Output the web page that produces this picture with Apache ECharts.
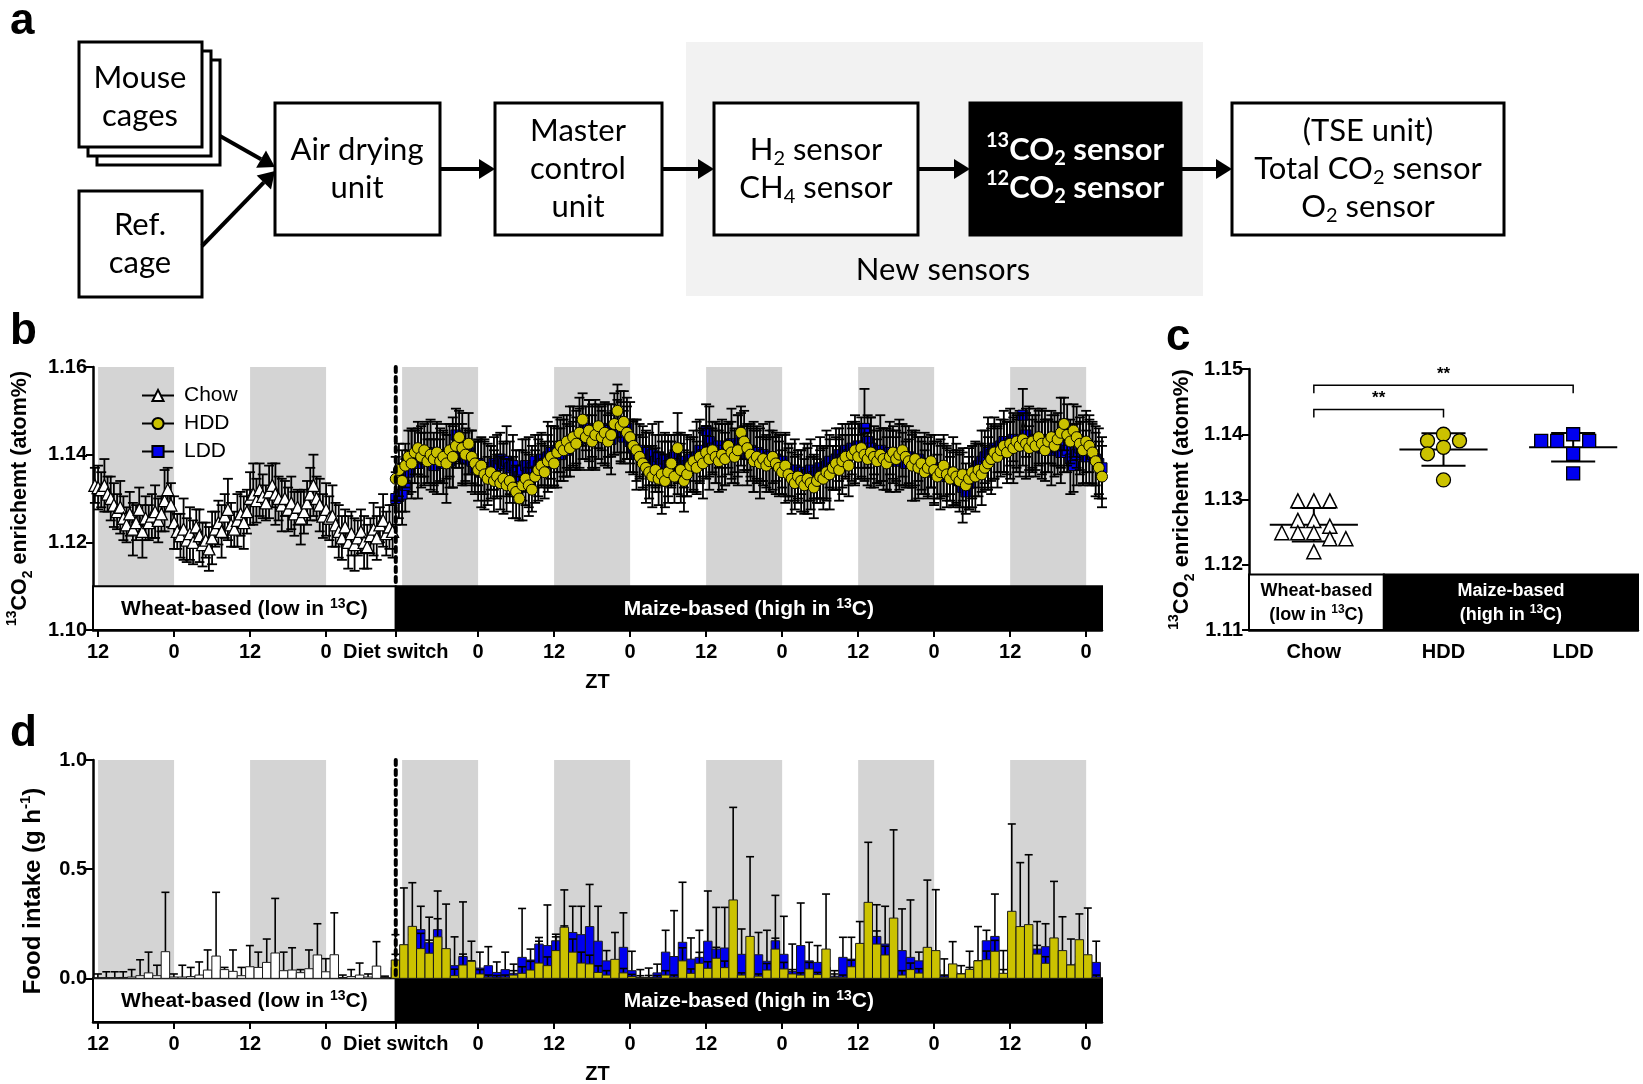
<!DOCTYPE html>
<html>
<head>
<meta charset="utf-8">
<script src="https://cdn.jsdelivr.net/npm/echarts@6.0.0/dist/echarts.min.js"></script>
<style>
html, body { margin: 0; padding: 0; background: #fff; }
#main { width: 1643px; height: 1084px; }
</style>
</head>
<body>
<div id="main"></div>
<script>
// ---- shared time axis (hours after the first ZT12 tick) ----
var tMin = -0.8, tMax = 158.5;
var dietSwitch = 47;
var tickHours = [0, 12, 24, 36, 47, 60, 72, 84, 96, 108, 120, 132, 144, 156];
var darkStart = [0, 24, 48, 72, 96, 120, 144];   // dark phase ZT12-24, 12 h long

// ---- panel b: 13CO2 enrichment, every 0.5 h ----
var chowStart = -0.5, hddStart = 47, stepB = 0.5;
var chowB = [
  1.1330,1.1325,1.1320,1.1330,1.1310,1.1300,1.1285,1.1270,1.1280,1.1255,1.1240,1.1265,1.1230,1.1245,1.1275,1.1225,1.1255,1.1245,1.1260,1.1270,1.1250,1.1265,1.1295,1.1320,
  1.1285,1.1245,1.1225,1.1215,1.1230,1.1205,1.1220,1.1200,1.1235,1.1215,1.1195,1.1205,1.1185,1.1210,1.1230,1.1245,1.1225,1.1260,1.1275,1.1240,1.1230,1.1250,1.1265,1.1245,
  1.1270,1.1300,1.1310,1.1295,1.1320,1.1305,1.1290,1.1315,1.1330,1.1310,1.1300,1.1285,1.1300,1.1275,1.1290,1.1265,1.1280,1.1255,1.1270,1.1290,1.1310,1.1330,1.1300,1.1285,
  1.1260,1.1275,1.1255,1.1260,1.1240,1.1225,1.1210,1.1235,1.1200,1.1220,1.1195,1.1210,1.1225,1.1200,1.1190,1.1215,1.1230,1.1210,1.1240,1.1250,1.1220,1.1235,1.1225
];
var chowBSd = [ // x 0.001
  4,5,4,6,4,5,5,4,6,5,4,5,6,4,5,6,5,4,5,6,5,4,7,5,
  5,6,4,5,7,5,6,5,4,6,5,4,5,6,4,5,6,5,7,5,4,6,5,6,
  5,6,7,5,6,5,4,6,5,7,5,6,4,5,6,5,4,6,5,5,6,7,5,6,
  5,6,5,7,5,6,5,4,6,5,6,4,5,6,5,4,6,5,4,6,5,5,6
];
var hddB = [
  1.1345,1.1365,1.1340,1.1375,1.1395,1.1380,1.1405,1.1415,1.1395,1.1410,1.1385,1.1400,1.1390,1.1405,1.1385,1.1395,1.1380,1.1410,1.1395,1.1420,1.1440,1.1415,1.1400,1.1425,
  1.1395,1.1380,1.1365,1.1375,1.1355,1.1345,1.1360,1.1340,1.1350,1.1335,1.1345,1.1330,1.1340,1.1325,1.1315,1.1300,1.1330,1.1345,1.1330,1.1320,1.1350,1.1365,1.1375,1.1360,
  1.1385,1.1395,1.1380,1.1405,1.1420,1.1410,1.1430,1.1415,1.1440,1.1425,1.1450,1.1480,1.1440,1.1455,1.1430,1.1445,1.1465,1.1440,1.1450,1.1430,1.1445,1.1470,1.1500,1.1465,
  1.1475,1.1450,1.1440,1.1420,1.1410,1.1395,1.1380,1.1370,1.1360,1.1350,1.1365,1.1345,1.1355,1.1340,1.1360,1.1380,1.1350,1.1415,1.1365,1.1340,1.1355,1.1375,1.1385,1.1370,
  1.1395,1.1380,1.1405,1.1390,1.1410,1.1395,1.1385,1.1400,1.1390,1.1420,1.1405,1.1395,1.1410,1.1450,1.1430,1.1415,1.1400,1.1385,1.1395,1.1380,1.1390,1.1375,1.1385,1.1395,
  1.1380,1.1370,1.1360,1.1375,1.1355,1.1345,1.1335,1.1350,1.1340,1.1330,1.1345,1.1335,1.1325,1.1340,1.1350,1.1345,1.1360,1.1355,1.1370,1.1380,1.1365,1.1385,1.1395,1.1375,
  1.1400,1.1410,1.1395,1.1415,1.1400,1.1390,1.1405,1.1395,1.1385,1.1400,1.1390,1.1380,1.1395,1.1405,1.1390,1.1400,1.1410,1.1395,1.1385,1.1375,1.1390,1.1370,1.1380,1.1360,
  1.1370,1.1385,1.1365,1.1350,1.1360,1.1375,1.1355,1.1345,1.1360,1.1350,1.1340,1.1355,1.1330,1.1345,1.1360,1.1350,1.1365,1.1355,1.1370,1.1380,1.1390,1.1405,1.1395,1.1410,
  1.1420,1.1405,1.1425,1.1415,1.1430,1.1420,1.1435,1.1425,1.1415,1.1430,1.1420,1.1440,1.1425,1.1410,1.1430,1.1440,1.1420,1.1435,1.1450,1.1470,1.1445,1.1430,1.1455,1.1440,
  1.1425,1.1410,1.1430,1.1420,1.1405,1.1385,1.1370,1.1350
];
var hddBSd = [
  5,6,7,5,6,8,5,6,7,6,5,8,6,7,5,6,9,6,7,5,6,8,6,7,
  6,5,7,6,8,5,6,7,5,6,8,6,5,7,6,5,8,6,7,5,6,7,5,6,
  6,7,5,8,6,7,6,5,7,6,8,6,5,7,6,8,5,6,7,6,5,7,6,8,
  7,6,8,6,7,5,6,8,6,7,5,6,9,6,7,5,6,8,6,7,5,6,7,6,
  6,8,6,7,5,6,7,8,6,5,7,6,8,6,7,5,6,7,6,8,5,6,7,6,
  7,6,5,7,6,8,6,5,7,6,8,6,7,5,6,7,6,8,5,6,7,6,5,7,
  6,8,5,7,6,6,8,7,5,6,7,6,8,6,5,7,6,7,5,8,6,7,6,5,
  7,6,8,5,6,7,6,5,8,6,7,6,5,7,6,8,6,7,5,6,8,6,7,6,
  6,7,5,8,6,7,6,8,5,6,7,6,8,7,5,6,7,6,8,6,7,5,6,7,
  6,8,7,6,7,8,6,7
];
var lddB = [
  1.1300,1.1305,1.1310,1.1330,1.1360,1.1385,1.1395,1.1380,1.1400,1.1390,1.1405,1.1385,1.1375,1.1390,1.1400,1.1380,1.1395,1.1385,1.1405,1.1445,1.1420,1.1400,1.1390,1.1405,
  1.1385,1.1370,1.1380,1.1360,1.1370,1.1355,1.1370,1.1380,1.1375,1.1390,1.1380,1.1385,1.1370,1.1375,1.1360,1.1350,1.1365,1.1375,1.1360,1.1370,1.1385,1.1375,1.1390,1.1380,
  1.1395,1.1405,1.1395,1.1410,1.1400,1.1420,1.1410,1.1430,1.1425,1.1440,1.1435,1.1450,1.1460,1.1445,1.1455,1.1440,1.1450,1.1460,1.1445,1.1455,1.1435,1.1450,1.1465,1.1450,
  1.1440,1.1460,1.1430,1.1415,1.1400,1.1410,1.1395,1.1405,1.1390,1.1400,1.1385,1.1395,1.1380,1.1390,1.1375,1.1385,1.1395,1.1380,1.1370,1.1385,1.1375,1.1390,1.1380,1.1395,
  1.1410,1.1400,1.1455,1.1430,1.1415,1.1405,1.1420,1.1410,1.1400,1.1415,1.1425,1.1410,1.1420,1.1435,1.1415,1.1400,1.1410,1.1395,1.1405,1.1390,1.1400,1.1385,1.1395,1.1380,
  1.1390,1.1375,1.1385,1.1370,1.1365,1.1355,1.1365,1.1350,1.1360,1.1345,1.1355,1.1365,1.1350,1.1360,1.1370,1.1360,1.1375,1.1385,1.1370,1.1390,1.1400,1.1390,1.1410,1.1400,
  1.1415,1.1405,1.1420,1.1410,1.1460,1.1430,1.1415,1.1405,1.1395,1.1410,1.1400,1.1390,1.1405,1.1395,1.1385,1.1400,1.1390,1.1380,1.1395,1.1385,1.1375,1.1390,1.1370,1.1380,
  1.1365,1.1375,1.1360,1.1370,1.1355,1.1365,1.1350,1.1360,1.1345,1.1355,1.1340,1.1325,1.1315,1.1335,1.1350,1.1365,1.1375,1.1385,1.1395,1.1405,1.1400,1.1415,1.1410,1.1420,
  1.1430,1.1415,1.1425,1.1435,1.1420,1.1430,1.1490,1.1445,1.1430,1.1420,1.1435,1.1425,1.1415,1.1430,1.1420,1.1410,1.1425,1.1415,1.1405,1.1420,1.1410,1.1390,1.1375,1.1400,
  1.1415,1.1405,1.1395,1.1410,1.1400,1.1390,1.1380,1.1370
];
var lddBSd = [
  6,5,7,6,5,7,6,8,5,6,7,5,6,8,6,7,5,6,8,6,5,7,6,5,
  7,6,5,8,6,7,5,6,7,6,5,8,6,7,5,6,7,6,8,5,6,7,6,5,
  8,6,7,5,6,7,6,8,5,6,7,6,5,8,6,7,6,5,7,6,8,5,6,7,
  6,7,5,6,8,6,7,5,6,7,6,8,5,6,7,6,5,7,8,6,7,5,6,8,
  7,5,6,8,6,7,5,6,7,6,8,5,7,6,5,7,6,8,6,5,7,6,8,6,
  5,7,6,8,6,5,7,6,5,8,6,7,5,6,7,6,8,6,5,7,6,8,6,7,
  6,7,5,6,9,6,7,5,6,8,6,7,5,6,7,8,6,5,7,6,8,5,6,7,
  6,5,7,6,8,6,7,5,6,7,6,8,5,6,7,6,5,7,6,8,6,7,5,6,
  7,6,8,5,6,7,6,5,8,6,7,5,6,7,6,8,5,6,7,6,5,8,6,7,
  6,7,6,8,7,6,8,7
];

// ---- panel c: per-mouse 13CO2 enrichment ----
var groupsC = ['Chow', 'HDD', 'LDD'];
var chowC = [1.1298, 1.1298, 1.1298, 1.1268, 1.1268, 1.1259, 1.1249, 1.1249, 1.1249, 1.1240, 1.1240, 1.1220];
var hddC = [1.1400, 1.1390, 1.1390, 1.1380, 1.1370, 1.1330];
var lddC = [1.1400, 1.1390, 1.1390, 1.1390, 1.1370, 1.1340];
var bracketsC = [[0, 1, 1.1438, '**'], [0, 2, 1.1475, '**']];

// ---- panel d: food intake, 80 min bins ----
var binStep = 1.333, chowBinStart = -0.03, dietBinStart = 46.95;
var chowD = [0.002,0.003,0.003,0.004,0.006,0.012,0.025,0.012,0.122,0.006,0.006,0.008,0.015,0.038,0.102,0.04,0.032,0.012,
  0.053,0.05,0.073,0.116,0.035,0.038,0.026,0.044,0.107,0.03,0.108,0.004,0.008,0.015,0.006,0.056,0.004];
var chowDSd = [0.018,0.027,0.027,0.026,0.034,0.073,0.095,0.048,0.272,0.014,0.054,0.042,0.06,0.092,0.292,0.01,0.098,0.038,
  0.097,0.07,0.107,0.25,0.085,0.102,0.014,0.086,0.143,0.06,0.192,0.011,0.032,0.055,0.014,0.112,0.006];
var hddD = [
  0.084,0.154,0.238,0.136,0.115,0.19,0.136,0.012,0.061,0.078,0.02,0.005,
  0.003,0.005,0.015,0.023,0.038,0.07,0.058,0.127,0.234,0.12,0.07,0.066,
  0.027,0.015,0.087,0.025,0.008,0.003,0.004,0.003,0.015,0.005,0.08,0.023,
  0.069,0.046,0.092,0.049,0.359,0.015,0.192,0.01,0.038,0.134,0.043,0.02,
  0.015,0.043,0.017,0.134,0.005,0.005,0.053,0.16,0.348,0.157,0.107,0.276,
  0.015,0.04,0.024,0.142,0.127,0.005,0.066,0.02,0.041,0.08,0.085,0.124,
  0.023,0.307,0.237,0.246,0.111,0.069,0.185,0.127,0.061,0.177,0.108,0.005
];
var hddDSd = [
  0.116,0.26,0.20,0.07,0.06,0.21,0.204,0.03,0.05,0.092,0.02,0.01,
  0.01,0.01,0.02,0.03,0.04,0.10,0.04,0.063,0.171,0.06,0.05,0.04,
  0.03,0.02,0.123,0.02,0.01,0.037,0.043,0.01,0.02,0.01,0.06,0.02,
  0.05,0.03,0.05,0.03,0.424,0.01,0.365,0.01,0.03,0.05,0.03,0.02,
  0.01,0.03,0.01,0.252,0.03,0.01,0.03,0.10,0.275,0.06,0.04,0.404,
  0.02,0.03,0.02,0.308,0.279,0.01,0.102,0.038,0.083,0.157,0.04,0.05,
  0.104,0.40,0.293,0.32,0.04,0.03,0.259,0.155,0.119,0.118,0.214,0.01
];
var lddD = [
  0.05,0.07,0.12,0.223,0.163,0.223,0.09,0.058,0.10,0.05,0.047,0.058,
  0.027,0.04,0.023,0.096,0.084,0.157,0.15,0.172,0.19,0.21,0.20,0.237,
  0.17,0.08,0.04,0.142,0.035,0.002,0.003,0.025,0.12,0.10,0.165,0.088,
  0.096,0.17,0.134,0.139,0.09,0.11,0.06,0.108,0.078,0.172,0.11,0.032,
  0.15,0.08,0.073,0.05,0.01,0.096,0.088,0.08,0.10,0.192,0.157,0.06,
  0.127,0.096,0.08,0.05,0.04,0.012,0.03,0.01,0.03,0.05,0.172,0.192,
  0.02,0.10,0.08,0.09,0.134,0.145,0.06,0.05,0.04,0.07,0.05,0.073
];
var lddDSd = [
  0.06,0.08,0.08,0.107,0.117,0.05,0.04,0.132,0.25,0.03,0.073,0.087,
  0.048,0.08,0.042,0.224,0.05,0.03,0.186,0.03,0.05,0.12,0.13,0.193,
  0.16,0.047,0.03,0.158,0.089,0.01,0.01,0.04,0.10,0.21,0.275,0.097,
  0.124,0.23,0.191,0.186,0.06,0.116,0.04,0.102,0.142,0.208,0.174,0.125,
  0.195,0.085,0.077,0.03,0.01,0.092,0.10,0.03,0.05,0.145,0.173,0.04,
  0.191,0.263,0.04,0.03,0.02,0.077,0.02,0.01,0.02,0.03,0.048,0.194,
  0.02,0.05,0.04,0.04,0.126,0.105,0.03,0.02,0.02,0.03,0.02,0.097
];

// ---- styles ----
var ARIAL = '"Liberation Sans", Arial, sans-serif';
var CAL = 'Lato, "Open Sans", sans-serif';
var YELLOW = '#cbc200';
var BLUE = '#0000f0';
var GREY = '#d4d4d4';

var chart = echarts.init(document.getElementById('main'));

function series05(start, vals, sds) {
  var pts = [], err = [];
  for (var i = 0; i < vals.length; i++) {
    var t = start + i * stepB;
    pts.push([t, vals[i]]);
    err.push([t, vals[i] - sds[i] / 1000, vals[i] + sds[i] / 1000]);
  }
  return { pts: pts, err: err };
}
function bins(start, vals, sds) {
  var out = [];
  for (var i = 0; i < vals.length; i++) {
    out.push([start + i * binStep, vals[i], vals[i] + sds[i]]);
  }
  return out;
}

var chowS = series05(chowStart, chowB, chowBSd);
var hddS = series05(hddStart, hddB, hddBSd);
var lddS = series05(hddStart, lddB, lddBSd);

// error bar drawing
function errRender(cap, upOnly, lw) {
  return function (params, api) {
    var x = api.value(0);
    var top = api.coord([x, api.value(2)]);
    var bot = api.coord([x, api.value(1)]);
    var st = { stroke: '#000', lineWidth: lw };
    var ch = [
      { type: 'line', shape: { x1: top[0], y1: top[1], x2: bot[0], y2: bot[1] }, style: st },
      { type: 'line', shape: { x1: top[0] - cap, y1: top[1], x2: top[0] + cap, y2: top[1] }, style: st }
    ];
    if (!upOnly) ch.push({ type: 'line', shape: { x1: bot[0] - cap, y1: bot[1], x2: bot[0] + cap, y2: bot[1] }, style: st });
    return { type: 'group', children: ch };
  };
}
function barRender(color) {
  return function (params, api) {
    var t = api.value(0), v = api.value(1);
    var a = api.coord([t - binStep / 2, v]);
    var b = api.coord([t + binStep / 2, 0]);
    return { type: 'rect', shape: { x: a[0], y: a[1], width: b[0] - a[0], height: b[1] - a[1] },
      style: { fill: color, stroke: '#1a1a1a', lineWidth: 1 } };
  };
}
function bandRender(y0, y1) {
  return function (params, api) {
    var a = api.coord([api.value(0), y1]);
    var b = api.coord([api.value(0) + 12, y0]);
    return { type: 'rect', shape: { x: a[0], y: a[1], width: b[0] - a[0], height: b[1] - a[1] }, style: { fill: GREY } };
  };
}
// diet boxes: [x0, x1, y0, y1, text, dark]
var dietBoxData = {
  boxB: [[tMin, dietSwitch, 1.10, 1.11, '{t|Wheat-based (low in }{sup|13}{t|C)}', 0],
         [dietSwitch, tMax, 1.10, 1.11, '{t|Maize-based (high in }{sup|13}{t|C)}', 1]],
  boxD: [[tMin, dietSwitch, -0.2, 0, '{t|Wheat-based (low in }{sup|13}{t|C)}', 0],
         [dietSwitch, tMax, -0.2, 0, '{t|Maize-based (high in }{sup|13}{t|C)}', 1]],
  boxC: [[-0.5, 0.54, 1.11, 1.1185, '{t|Wheat-based}\n{t|(low in }{sup|13}{t|C)}', 0],
         [0.54, 2.5, 1.11, 1.1185, '{t|Maize-based}\n{t|(high in }{sup|13}{t|C)}', 1]]
};
function dietRender(fontSize, lh) {
  return function (params, api) {
    var d = dietBoxData[params.seriesName][params.dataIndex];
    var a = api.coord([d[0], d[3]]);
    var b = api.coord([d[1], d[2]]);
    var col = d[5] ? '#fff' : '#000';
    return { type: 'group', children: [
      { type: 'rect', shape: { x: a[0], y: a[1], width: b[0] - a[0], height: b[1] - a[1] },
        style: { fill: d[5] ? '#000' : '#fff', stroke: '#000', lineWidth: 2 } },
      { type: 'text', x: (a[0] + b[0]) / 2, y: (a[1] + b[1]) / 2 + 1,
        style: { text: d[4], fill: col, font: 'bold ' + fontSize + 'px ' + ARIAL,
          align: 'center', verticalAlign: 'middle',
          rich: {
            sup: { fontSize: Math.round(fontSize * 0.65), fontWeight: 'bold', fontFamily: ARIAL, verticalAlign: 'top', lineHeight: lh, color: col },
            t: { fontSize: fontSize, fontWeight: 'bold', fontFamily: ARIAL, lineHeight: lh, color: col }
          } } }
    ] };
  };
}
function switchRender(y0, y1) {
  return function (params, api) {
    var a = api.coord([dietSwitch, y1]), b = api.coord([dietSwitch, y0]);
    return { type: 'line', shape: { x1: a[0], y1: a[1], x2: b[0], y2: b[1] },
      style: { stroke: '#000', lineWidth: 4, lineDash: [5, 5], lineCap: 'round' } };
  };
}

// panel c: deterministic beeswarm offsets (in category units)
function swarm(vals, idx) {
  var pxY = 6520, pxCat = 129.7, step = 16, minD = 12;
  var placed = [];
  return vals.map(function (v) {
    var y = v * pxY, off = 0;
    for (var k = 0; k < 30; k++) {
      var cands = k === 0 ? [0] : [-k * step, k * step];
      var found = false;
      for (var c = 0; c < cands.length; c++) {
        var ok = placed.every(function (p) { return Math.hypot(p[0] - cands[c], p[1] - y) >= minD; });
        if (ok) { off = cands[c]; found = true; break; }
      }
      if (found) break;
    }
    placed.push([off, y]);
    return [idx + off / pxCat, v];
  });
}
function stats(vals) {
  var m = vals.reduce(function (a, b) { return a + b; }, 0) / vals.length;
  var s = Math.sqrt(vals.reduce(function (a, b) { return a + (b - m) * (b - m); }, 0) / (vals.length - 1));
  return [m, s];
}
var statsC = [chowC, hddC, lddC].map(function (v, i) { var s = stats(v); return [i, s[0], s[1]]; });

function ztLabel(v) {
  if (Math.abs(v - dietSwitch) < 0.01) return 'Diet switch';
  return ((Math.round(v) + 12) % 24 === 0) ? '0' : '12';
}
var labelFont = { color: '#000', fontFamily: ARIAL, fontWeight: 'bold', fontSize: 20 };

function timeAxis(grid) {
  return {
    type: 'value', gridIndex: grid, min: tMin, max: tMax,
    axisLine: { show: true, onZero: false, lineStyle: { color: '#000', width: 2.5 } },
    axisTick: { show: true, customValues: tickHours, length: 7, lineStyle: { color: '#000', width: 2 } },
    axisLabel: Object.assign({ customValues: tickHours, formatter: ztLabel, margin: 12 }, labelFont),
    splitLine: { show: false },
    name: 'ZT', nameLocation: 'middle', nameGap: 42,
    nameTextStyle: { color: '#000', fontFamily: ARIAL, fontWeight: 'bold', fontSize: 20 }
  };
}
function nameRich(size) {
  var sm = Math.round(size * 0.64);
  return {
    b: { fontFamily: ARIAL, fontWeight: 'bold', fontSize: size, lineHeight: 30 },
    s: { fontFamily: ARIAL, fontWeight: 'bold', fontSize: sm, lineHeight: 30, verticalAlign: 'top' },
    u: { fontFamily: ARIAL, fontWeight: 'bold', fontSize: sm, lineHeight: 30, verticalAlign: 'bottom' }
  };
}
function valueY(grid, min, max, extra, nameSize) {
  return Object.assign({
    type: 'value', gridIndex: grid, min: min, max: max,
    axisLine: { show: true, onZero: false, lineStyle: { color: '#000', width: 2.5 } },
    axisTick: { show: true, length: 7, lineStyle: { color: '#000', width: 2 } },
    splitLine: { show: false },
    nameLocation: 'middle', nameRotate: 90,
    nameTextStyle: { color: '#000', rich: nameRich(nameSize) }
  }, extra);
}
var yName13 = '{s|13}{b|CO}{u|2}{b| enrichemt (atom%)}';

function panelLetter(t, x, y) {
  return { type: 'text', x: x, y: y, style: { text: t, font: 'bold 44px ' + ARIAL, fill: '#000' } };
}
// panel a diagram helpers
function box(x, y, w, h, fill) {
  return { type: 'rect', shape: { x: x, y: y, width: w, height: h }, style: { fill: fill || '#fff', stroke: '#000', lineWidth: 3 } };
}
function arrow(x1, y1, x2, y2) {
  var a = Math.atan2(y2 - y1, x2 - x1), L = 16, W = 10;
  var bx = x2 - L * Math.cos(a), by = y2 - L * Math.sin(a);
  return { type: 'group', children: [
    { type: 'line', shape: { x1: x1, y1: y1, x2: bx, y2: by }, style: { stroke: '#000', lineWidth: 4 } },
    { type: 'polygon', shape: { points: [[x2, y2], [bx + W * Math.sin(a), by - W * Math.cos(a)], [bx - W * Math.sin(a), by + W * Math.cos(a)]] }, style: { fill: '#000' } }
  ] };
}
function label(x, y, text, opts) {
  opts = opts || {};
  var w = opts.bold ? 'bold' : 'normal', col = opts.fill || '#000';
  return { type: 'text', x: x, y: y, z: 10, style: {
    text: text, fill: col, font: w + ' 31px ' + CAL,
    align: 'center', verticalAlign: 'middle', lineHeight: 38,
    rich: {
      n: { fontFamily: CAL, fontSize: 31, fontWeight: w, lineHeight: 38, color: col },
      sub: { fontFamily: CAL, fontSize: 20, fontWeight: w, lineHeight: 38, verticalAlign: 'bottom', color: col },
      sup: { fontFamily: CAL, fontSize: 20, fontWeight: w, lineHeight: 38, verticalAlign: 'top', color: col }
    } } };
}

var diagram = [
  { type: 'rect', shape: { x: 686, y: 42, width: 517, height: 254 }, style: { fill: '#f2f2f2' } },
  box(97, 60, 123, 105), box(88, 51, 123, 105), box(79, 42, 123, 105),
  box(79, 191, 123, 106),
  box(275, 103, 165, 132), box(495, 103, 167, 132), box(714, 103, 204, 132),
  box(970, 103, 211, 132, '#000'), box(1232, 103, 272, 132),
  arrow(220, 136, 275, 167), arrow(202, 246, 275, 171),
  arrow(440, 169, 495, 169), arrow(662, 169, 714, 169), arrow(918, 169, 970, 169), arrow(1181, 169, 1232, 169),
  label(140, 97, '{n|Mouse}\n{n|cages}'),
  label(140, 244, '{n|Ref.}\n{n|cage}'),
  label(357, 169, '{n|Air drying}\n{n|unit}'),
  label(578, 169, '{n|Master}\n{n|control}\n{n|unit}'),
  label(816, 169, '{n|H}{sub|2}{n| sensor}\n{n|CH}{sub|4}{n| sensor}'),
  label(1075, 169, '{sup|13}{n|CO}{sub|2}{n| sensor}\n{sup|12}{n|CO}{sub|2}{n| sensor}', { bold: true, fill: '#fff' }),
  label(1368, 169, '{n|(TSE unit)}\n{n|Total CO}{sub|2}{n| sensor}\n{n|O}{sub|2}{n| sensor}'),
  label(943, 270, '{n|New sensors}'),
  panelLetter('a', 10, 0), panelLetter('b', 10, 310), panelLetter('c', 1166, 316), panelLetter('d', 10, 712)
];

var option = {
  animation: false,
  backgroundColor: '#fff',
  graphic: diagram,
  grid: [
    { left: 93, top: 367, width: 1009, height: 263, containLabel: false, outerBoundsMode: 'none' },
    { left: 1249, top: 369, width: 389, height: 261, containLabel: false, outerBoundsMode: 'none' },
    { left: 93, top: 760, width: 1009, height: 262, containLabel: false, outerBoundsMode: 'none' }
  ],
  legend: {
    data: ['Chow', 'HDD', 'LDD'], orient: 'vertical', left: 136, top: 380,
    itemWidth: 32, itemHeight: 14, itemGap: 7, selectedMode: false,
    textStyle: { fontFamily: ARIAL, fontSize: 21, color: '#000', lineHeight: 20, padding: [0, 0, 0, 5] }
  },
  xAxis: [
    timeAxis(0),
    timeAxis(2),
    { type: 'category', gridIndex: 1, data: groupsC,
      axisLine: { onZero: false, lineStyle: { color: '#000', width: 2.5 } },
      axisTick: { alignWithLabel: true, length: 7, lineStyle: { color: '#000', width: 2 } },
      axisLabel: Object.assign({ margin: 12 }, labelFont) },
    { type: 'value', gridIndex: 1, min: -0.5, max: 2.5, show: false }
  ],
  yAxis: [
    valueY(0, 1.10, 1.16, { interval: 0.02, name: yName13, nameGap: 58,
      axisLabel: Object.assign({ formatter: function (v) { return v.toFixed(2); }, margin: 6 }, labelFont) }, 21.5),
    valueY(1, 1.11, 1.15, { interval: 0.01, name: yName13, nameGap: 52,
      axisLabel: Object.assign({ formatter: function (v) { return v.toFixed(2); }, margin: 6 }, labelFont) }, 22),
    valueY(2, -0.2, 1.0, { name: '{b|Food intake (g h}{s|-1}{b|)}', nameGap: 45,
      axisTick: { show: true, customValues: [0, 0.5, 1.0], length: 7, lineStyle: { color: '#000', width: 2 } },
      axisLabel: Object.assign({ customValues: [0, 0.5, 1.0], formatter: function (v) { return v.toFixed(1); }, margin: 6 }, labelFont) }, 24)
  ],
  series: [
    // panel b
    { type: 'custom', name: 'bandsB', xAxisIndex: 0, yAxisIndex: 0, z: 1, data: darkStart.map(function (s) { return [s]; }),
      renderItem: bandRender(1.11, 1.16), encode: { x: 0 } },
    { type: 'custom', name: 'boxB', xAxisIndex: 0, yAxisIndex: 0, z: 2, data: [[0], [1]],
      renderItem: dietRender(21, 24) },
    { type: 'custom', name: 'chowErrB', xAxisIndex: 0, yAxisIndex: 0, z: 3, data: chowS.err,
      renderItem: errRender(5, false, 1.8), encode: { x: 0, y: [1, 2] } },
    { type: 'line', name: 'Chow', xAxisIndex: 0, yAxisIndex: 0, z: 4, data: chowS.pts,
      symbol: 'triangle', symbolSize: 12, showAllSymbol: true,
      itemStyle: { color: '#fff', borderColor: '#000', borderWidth: 1.3 },
      lineStyle: { color: '#000', width: 1 } },
    { type: 'custom', name: 'lddErrB', xAxisIndex: 0, yAxisIndex: 0, z: 5, data: lddS.err,
      renderItem: errRender(5, false, 1.8), encode: { x: 0, y: [1, 2] } },
    { type: 'line', name: 'LDD', xAxisIndex: 0, yAxisIndex: 0, z: 6, data: lddS.pts,
      symbol: 'rect', symbolSize: 10, showAllSymbol: true,
      itemStyle: { color: BLUE, borderColor: '#000', borderWidth: 1 },
      lineStyle: { color: '#000', width: 1 } },
    { type: 'custom', name: 'hddErrB', xAxisIndex: 0, yAxisIndex: 0, z: 7, data: hddS.err,
      renderItem: errRender(5, false, 1.8), encode: { x: 0, y: [1, 2] } },
    { type: 'line', name: 'HDD', xAxisIndex: 0, yAxisIndex: 0, z: 8, data: hddS.pts,
      symbol: 'circle', symbolSize: 11, showAllSymbol: true,
      itemStyle: { color: YELLOW, borderColor: '#000', borderWidth: 1 },
      lineStyle: { color: '#000', width: 1 } },
    { type: 'custom', name: 'switchB', xAxisIndex: 0, yAxisIndex: 0, z: 9, data: [[dietSwitch]],
      renderItem: switchRender(1.11, 1.16) },

    // panel c
    { type: 'custom', name: 'boxC', xAxisIndex: 3, yAxisIndex: 1, z: 2, data: [[0], [1]],
      renderItem: dietRender(18, 24) },
    { type: 'custom', name: 'statsC', xAxisIndex: 3, yAxisIndex: 1, z: 3, data: statsC,
      renderItem: function (params, api) {
        var c = api.value(0), m = api.value(1), s = api.value(2);
        var st = { stroke: '#000', lineWidth: 2 };
        var p = function (x, y) { return api.coord([x, y]); };
        var l = function (a, b) { return { type: 'line', shape: { x1: a[0], y1: a[1], x2: b[0], y2: b[1] }, style: st }; };
        return { type: 'group', children: [
          l(p(c - 0.34, m), p(c + 0.34, m)),
          l(p(c, m - s), p(c, m + s)),
          l(p(c - 0.17, m + s), p(c + 0.17, m + s)),
          l(p(c - 0.17, m - s), p(c + 0.17, m - s))
        ] };
      } },
    { type: 'scatter', name: 'chowC', xAxisIndex: 3, yAxisIndex: 1, z: 4, data: swarm(chowC, 0),
      symbol: 'triangle', symbolSize: 14, itemStyle: { color: '#fff', borderColor: '#000', borderWidth: 1.5, opacity: 1 } },
    { type: 'scatter', name: 'hddC', xAxisIndex: 3, yAxisIndex: 1, z: 4, data: swarm(hddC, 1),
      symbol: 'circle', symbolSize: 14, itemStyle: { color: YELLOW, borderColor: '#000', borderWidth: 1.3, opacity: 1 } },
    { type: 'scatter', name: 'lddC', xAxisIndex: 3, yAxisIndex: 1, z: 4, data: swarm(lddC, 2),
      symbol: 'rect', symbolSize: 13, itemStyle: { color: BLUE, borderColor: '#000', borderWidth: 1.3, opacity: 1 } },
    { type: 'custom', name: 'bracketsC', xAxisIndex: 3, yAxisIndex: 1, z: 4, data: bracketsC,
      renderItem: function (params, api) {
        var x0 = api.value(0), x1 = api.value(1), y = api.value(2);
        var a = api.coord([x0, y]), b = api.coord([x1, y]);
        return { type: 'group', children: [
          { type: 'polyline', shape: { points: [[a[0], a[1] + 8], a, b, [b[0], b[1] + 8]] }, style: { stroke: '#000', lineWidth: 1.5, fill: null } },
          { type: 'text', x: (a[0] + b[0]) / 2, y: a[1] - 3,
            style: { text: bracketsC[params.dataIndex][3], font: 'bold 17px ' + ARIAL, fill: '#000', align: 'center', verticalAlign: 'bottom' } }
        ] };
      } },

    // panel d
    { type: 'custom', name: 'bandsD', xAxisIndex: 1, yAxisIndex: 2, z: 1, data: darkStart.map(function (s) { return [s]; }),
      renderItem: bandRender(0, 1.0), encode: { x: 0 } },
    { type: 'custom', name: 'boxD', xAxisIndex: 1, yAxisIndex: 2, z: 2, data: [[0], [1]],
      renderItem: dietRender(21, 24) },
    { type: 'custom', name: 'chowErrD', xAxisIndex: 1, yAxisIndex: 2, z: 3, data: bins(chowBinStart, chowD, chowDSd),
      renderItem: errRender(4, true, 1.6), encode: { x: 0, y: [1, 2] } },
    { type: 'custom', name: 'chowBarD', xAxisIndex: 1, yAxisIndex: 2, z: 4, data: bins(chowBinStart, chowD, chowDSd),
      renderItem: barRender('#fff'), encode: { x: 0, y: 1 } },
    { type: 'custom', name: 'lddErrD', xAxisIndex: 1, yAxisIndex: 2, z: 5, data: bins(dietBinStart, lddD, lddDSd),
      renderItem: errRender(4, true, 1.6), encode: { x: 0, y: [1, 2] } },
    { type: 'custom', name: 'lddBarD', xAxisIndex: 1, yAxisIndex: 2, z: 6, data: bins(dietBinStart, lddD, lddDSd),
      renderItem: barRender(BLUE), encode: { x: 0, y: 1 } },
    { type: 'custom', name: 'hddErrD', xAxisIndex: 1, yAxisIndex: 2, z: 7, data: bins(dietBinStart, hddD, hddDSd),
      renderItem: errRender(4, true, 1.6), encode: { x: 0, y: [1, 2] } },
    { type: 'custom', name: 'hddBarD', xAxisIndex: 1, yAxisIndex: 2, z: 8, data: bins(dietBinStart, hddD, hddDSd),
      renderItem: barRender(YELLOW), encode: { x: 0, y: 1 } },
    { type: 'custom', name: 'switchD', xAxisIndex: 1, yAxisIndex: 2, z: 9, data: [[dietSwitch]],
      renderItem: switchRender(0, 1.0) }
  ]
};
chart.setOption(option);
</script>
</body>
</html>
